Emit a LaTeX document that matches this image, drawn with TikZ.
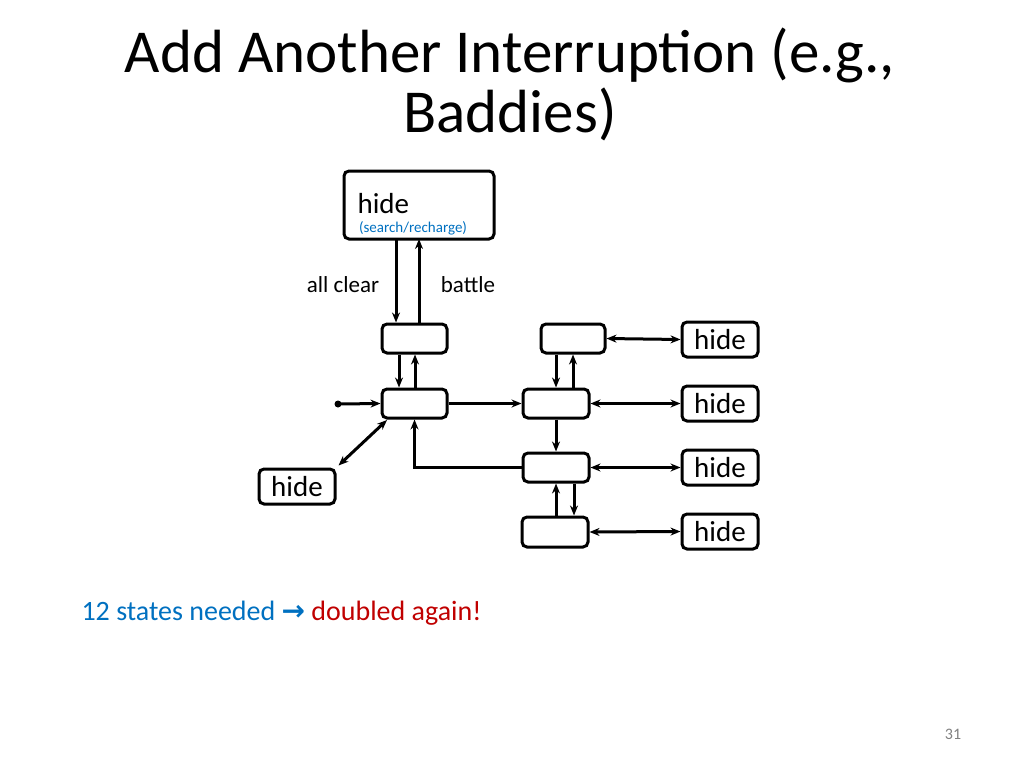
\documentclass[tikz,border=0pt]{standalone}
\usepackage{fontspec}
\setmainfont{Carlito}
\usetikzlibrary{arrows.meta}
\definecolor{blu}{RGB}{0,112,192}
\definecolor{rd}{RGB}{192,0,0}
\begin{document}
\begin{tikzpicture}[x=1pt,y=-1pt,
  st/.style={draw,line width=3pt,rounded corners=5pt,inner sep=0pt},
  ar/.style={line width=3pt,-{Stealth[length=10pt,width=8pt]}},
  br/.style={line width=3pt,{Stealth[length=10pt,width=8pt]}-{Stealth[length=10pt,width=8pt]}},
  lbl/.style={font=\fontsize{29}{29}\selectfont}]
\useasboundingbox (0,0) rectangle (1024,768);
\node (title) at (510,84) [align=center,font=\fontsize{61}{60}\selectfont] {Add Another Interruption (e.g.,\\Baddies)};
\node[st,minimum width=150pt,minimum height=68pt] (H) at (419,205) {};
\node[anchor=west,font=\fontsize{29}{29}\selectfont] (Ht) at (354,204) {hide};
\node[font=\fontsize{15}{15}\selectfont,text=blu] (Hs) at (413,228) {(search/recharge)};
\node[st,minimum width=65pt,minimum height=29pt] (A) at (414.5,338.5) {};
\node[st,minimum width=65pt,minimum height=29pt] (B) at (414.5,403.5) {};
\node[st,minimum width=64pt,minimum height=29pt] (C) at (573,338.5) {};
\node[st,minimum width=66pt,minimum height=29pt] (D) at (556,403.5) {};
\node[st,minimum width=66pt,minimum height=29pt] (E) at (556,467.5) {};
\node[st,minimum width=66pt,minimum height=30pt] (F) at (555,532) {};
\foreach \n/\y in {h1/339.5,h2/403.5,h3/467.5,h4/531.5}
  \node[st,lbl,minimum width=76pt,minimum height=35pt] (\n) at (720,\y) {hide};
\node[st,lbl,minimum width=76pt,minimum height=35pt] (hl) at (297,486.5) {hide};
\node[font=\fontsize{23}{23}\selectfont] (ac) at (343,285) {all clear};
\node[font=\fontsize{23}{23}\selectfont] (bt) at (468,285) {battle};
\coordinate (s) at (338,404);
\fill (s) circle (3.5pt);
\draw[ar] (396,239) -- (A.north -| 396,0);
\draw[ar] (A.north -| 419,0) -- (419,239);
\draw[ar] (A.south -| 399,0) -- (B.north -| 399,0);
\draw[ar] (B.north -| 415,0) -- (A.south -| 415,0);
\draw[ar] (s) -- (B.west);
\draw[ar] (B.east) -- (D.west);
\draw[br] (hl.north east) ++(2,-2) -- (387,420);
\draw[ar] (C.south -| 556,0) -- (D.north -| 556,0);
\draw[ar] (D.north -| 573,0) -- (C.south -| 573,0);
\draw[ar] (D.south) -- (E.north);
\draw[ar] (E.west) -| (B.south);
\draw[ar] (F.north -| 556,0) -- (E.south -| 556,0);
\draw[ar] (E.south -| 574,0) -- (F.north -| 574,0);
\draw[br] (C.east) -- (h1.west);
\draw[br] (D.east) -- (h2.west);
\draw[br] (E.east) -- (h3.west);
\draw[br] (F.east) -- (h4.west);
\node[anchor=west,font=\fontsize{28}{28}\selectfont] (note) at (78,613) {\textcolor{blu}{12 states needed} \textcolor{blu}{\fontspec{DejaVu Sans}\bfseries →} \textcolor{rd}{doubled again!}};
\node[font=\fontsize{16}{16}\selectfont,text=gray] (pg) at (953,734) {31};
\end{tikzpicture}
\end{document}
